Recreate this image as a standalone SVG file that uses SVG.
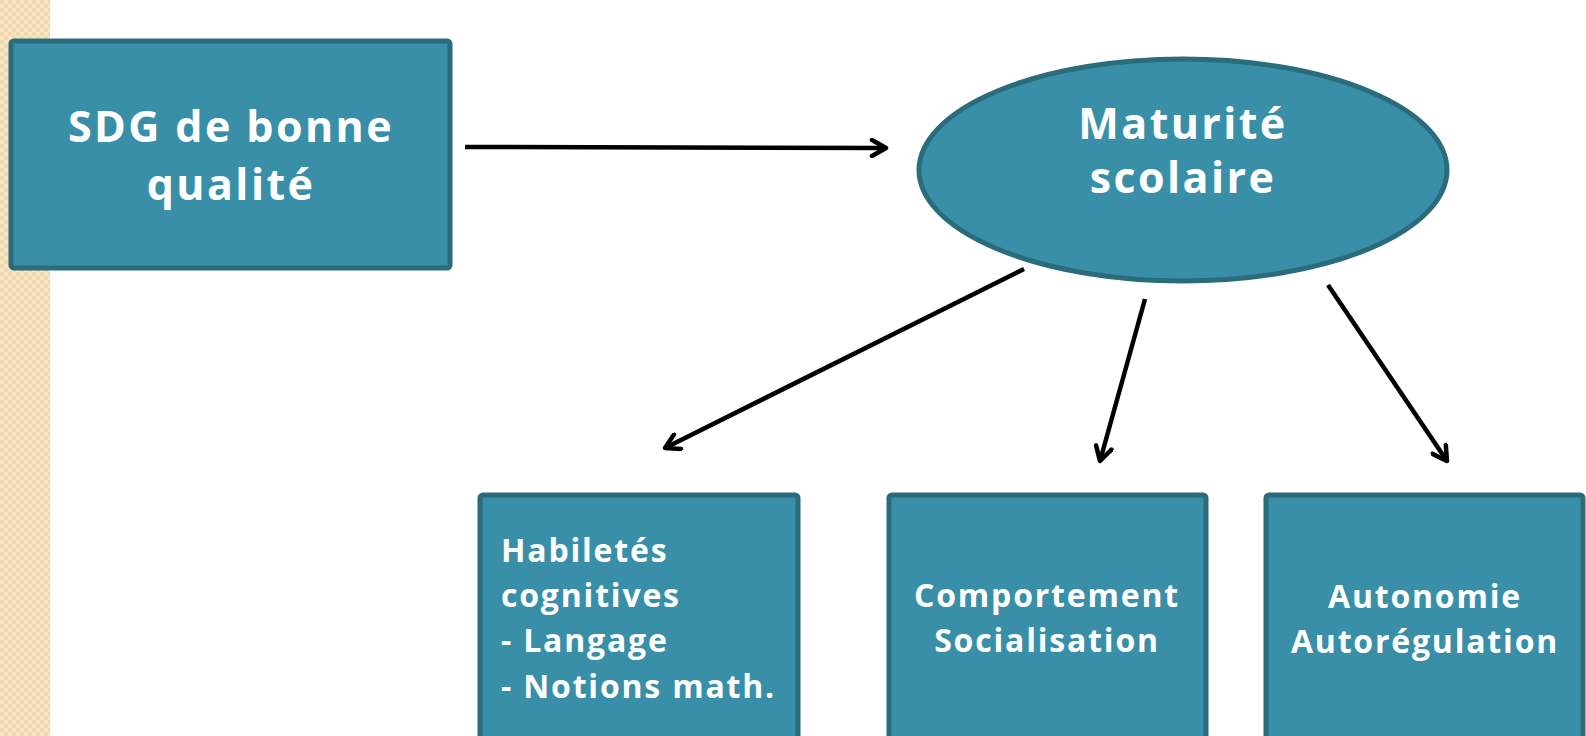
<svg xmlns="http://www.w3.org/2000/svg" width="1586" height="736" viewBox="0 0 1586 736">
<defs>
<pattern id="chk" width="8" height="8" patternUnits="userSpaceOnUse">
<rect width="8" height="8" fill="#f6e4c3"/>
<rect width="4" height="4" fill="#eed9b0"/>
<rect x="4" y="4" width="4" height="4" fill="#eed9b0"/>
</pattern>
<marker id="ah" viewBox="0 0 20 20" refX="17" refY="10" markerWidth="20" markerHeight="20" markerUnits="userSpaceOnUse" orient="auto">
<path d="M3,2 L17,10 L3,18" fill="none" stroke="#000" stroke-width="4.5" stroke-linecap="round" stroke-linejoin="round"/>
</marker>
</defs>
<style>
.node{fill:#3a8fa8;stroke:#2a6b7c;stroke-width:5}
.t{font-family:"Open Sans",Lato,"Liberation Sans",sans-serif;font-weight:bold;fill:#fff}
.big{font-size:43px;text-anchor:middle;letter-spacing:2.4px}
.sm{font-size:32px;letter-spacing:1.8px}
.c{text-anchor:middle}
.edge{stroke:#000;stroke-width:4.5;fill:none;marker-end:url(#ah)}
</style>
<rect width="1586" height="736" fill="#fff"/>
<rect x="0" y="0" width="50" height="736" fill="url(#chk)"/>
<g id="sdg">
<rect class="node" x="11" y="41" width="439" height="227" rx="3"/>
<text class="t big" x="231" y="142">SDG de bonne</text>
<text class="t big" x="231" y="200">qualité</text>
</g>
<g id="maturite">
<ellipse class="node" cx="1183" cy="170" rx="264" ry="111"/>
<text class="t big" x="1183" y="139">Maturité</text>
<text class="t big" x="1183" y="193">scolaire</text>
</g>
<g id="habiletes">
<rect class="node" x="480" y="495" width="318" height="250" rx="3"/>
<text class="t sm" x="501" y="562">Habiletés</text>
<text class="t sm" x="501" y="607">cognitives</text>
<text class="t sm" x="501" y="652">- Langage</text>
<text class="t sm" x="501" y="698">- Notions math.</text>
</g>
<g id="comportement">
<rect class="node" x="889" y="495" width="317" height="250" rx="3"/>
<text class="t sm c" x="1047" y="607">Comportement</text>
<text class="t sm c" x="1047" y="652">Socialisation</text>
</g>
<g id="autonomie">
<rect class="node" x="1266" y="495" width="317" height="250" rx="3"/>
<text class="t sm c" x="1425" y="608">Autonomie</text>
<text class="t sm c" x="1425" y="653">Autorégulation</text>
</g>
<g id="connectors">
<line class="edge" x1="465" y1="147" x2="886" y2="148"/>
<line class="edge" x1="1024" y1="269" x2="665" y2="448"/>
<line class="edge" x1="1145" y1="299" x2="1100" y2="461"/>
<line class="edge" x1="1328" y1="285" x2="1447" y2="461"/>
</g>
</svg>
